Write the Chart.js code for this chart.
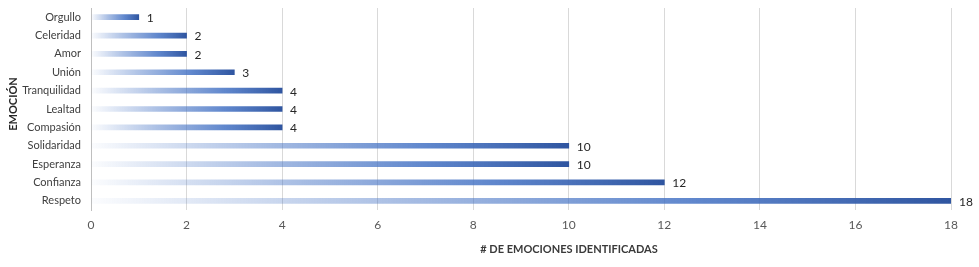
<!DOCTYPE html>
<html>
<head>
<meta charset="utf-8">
<script src="https://cdn.jsdelivr.net/npm/chart.js@4/dist/chart.umd.min.js"></script>
<style>
html,body{margin:0;padding:0;background:#fff;}
#wrap{width:979px;height:267px;position:relative;}
</style>
</head>
<body>
<div id="wrap"><canvas id="c" width="979" height="267"></canvas></div>
<script>
const categories = ["Orgullo","Celeridad","Amor","Unión","Tranquilidad","Lealtad","Compasión","Solidaridad","Esperanza","Confianza","Respeto"];
const values = [1,2,2,3,4,4,4,10,10,12,18];
const xTicks = [0,2,4,6,8,10,12,14,16,18];
const xTitle = "# DE EMOCIONES IDENTIFICADAS";
const yTitle = "EMOCIÓN";

const FONT = "Lato, 'Open Sans', sans-serif";

function barGradient(ctx) {
  const chart = ctx.chart;
  const xs = chart.scales && chart.scales.x;
  if (!xs || !chart.chartArea || ctx.raw === undefined) return '#4472c4';
  const x0 = xs.getPixelForValue(0);
  const x1 = xs.getPixelForValue(ctx.raw);
  if (!isFinite(x0) || !isFinite(x1) || x1 - x0 < 1) return '#4472c4';
  const g = chart.ctx.createLinearGradient(x0, 0, x1, 0);
  g.addColorStop(0, 'rgba(68,114,196,0.02)');
  g.addColorStop(0.35, 'rgba(68,114,196,0.45)');
  g.addColorStop(0.7, 'rgba(68,114,196,0.85)');
  g.addColorStop(1, 'rgba(47,85,160,1)');
  return g;
}

const extras = {
  id: 'extras',
  afterDatasetsDraw(chart) {
    const c = chart.ctx;
    const meta = chart.getDatasetMeta(0);
    c.save();
    c.font = "12px " + FONT;
    c.fillStyle = '#262626';
    c.textAlign = 'left';
    c.textBaseline = 'middle';
    meta.data.forEach((bar, i) => {
      c.fillText(String(values[i]), bar.x + 8, bar.y + 1);
    });
    c.restore();
  },
  afterDraw(chart) {
    const c = chart.ctx;
    c.save();
    c.font = "bold 11px " + FONT;
    c.fillStyle = '#3a3a3a';
    c.textAlign = 'center';
    c.textBaseline = 'middle';
    c.fillText(xTitle, 569, 249);
    c.translate(13, 104);
    c.rotate(-Math.PI / 2);
    c.fillStyle = '#262626';
    c.fillText(yTitle, 0, 0);
    c.restore();
  }
};

new Chart(document.getElementById('c'), {
  type: 'bar',
  data: {
    labels: categories,
    datasets: [{
      data: values,
      backgroundColor: barGradient,
      borderWidth: 0,
      barThickness: 5
    }]
  },
  options: {
    indexAxis: 'y',
    responsive: false,
    animation: false,
    layout: { padding: { left: 0, right: 28, top: 8, bottom: 0 } },
    plugins: { legend: { display: false }, tooltip: { enabled: false } },
    scales: {
      x: {
        min: 0, max: 18,
        afterBuildTicks(s) { s.ticks = xTicks.map(v => ({ value: v })); },
        ticks: { color: '#595959', font: { family: FONT, size: 12 }, padding: 8 },
        grid: { color: '#d9d9d9', drawTicks: false },
        border: { display: false },
        afterFit(s) { s.height = 267 - 210; }
      },
      y: {
        ticks: { color: '#404040', font: { family: FONT, size: 11 }, padding: 10, autoSkip: false },
        grid: { display: false, drawTicks: false },
        border: { display: true, color: '#bfbfbf', width: 1 },
        afterFit(s) { s.width = 91; s.paddingTop = 0; s.paddingBottom = 0; }
      }
    }
  },
  plugins: [extras]
});
</script>
</body>
</html>
